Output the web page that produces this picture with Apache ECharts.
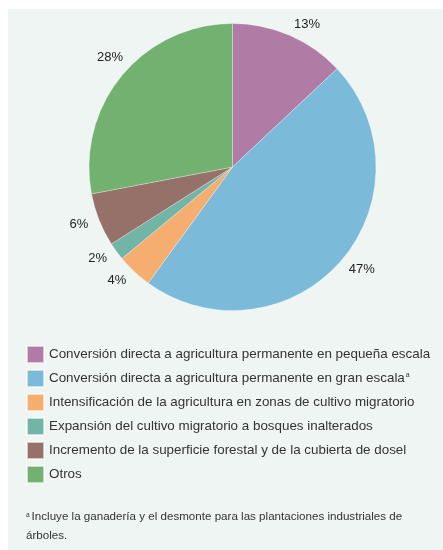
<!DOCTYPE html>
<html>
<head>
<meta charset="utf-8">
<script src="https://cdn.jsdelivr.net/npm/echarts@6/dist/echarts.min.js"></script>
<style>
  html, body { margin: 0; padding: 0; background: #ffffff; }
  #chart { width: 443px; height: 550px; }
</style>
</head>
<body>
<div id="chart"></div>
<script>
// Causas de la deforestación: porcentaje por categoría
const categories = [
  'Conversión directa a agricultura permanente en pequeña escala',
  'Conversión directa a agricultura permanente en gran escala',
  'Intensificación de la agricultura en zonas de cultivo migratorio',
  'Expansión del cultivo migratorio a bosques inalterados',
  'Incremento de la superficie forestal y de la cubierta de dosel',
  'Otros'
];
const shares = [13, 47, 4, 2, 6, 28];
const colors = ['#b07ba5', '#7bbad9', '#f5ad70', '#72b4a6', '#96716a', '#72b16f'];
// categories carrying a footnote mark
const footnoted = [false, true, false, false, false, false];
const footnoteLines = [
  'Incluye la ganadería y el desmonte para las plantaciones industriales de',
  'árboles.'
];

const FONT = '"Liberation Sans", Arial, Helvetica, sans-serif';
const panelBg = '#eff5f3';

const pieData = categories.map((name, i) => ({
  name: name,
  value: shares[i],
  itemStyle: { color: colors[i] }
}));

const chart = echarts.init(document.getElementById('chart'), null, { renderer: 'canvas' });

chart.setOption({
  backgroundColor: '#ffffff',
  animation: false,
  graphic: [
    {
      type: 'rect',
      z: -10,
      silent: true,
      shape: { x: 8, y: 9, width: 435, height: 541 },
      style: { fill: panelBg }
    },
    {
      type: 'text',
      left: 26,
      top: 511,
      silent: true,
      style: {
        text: '{s|a}{t|' + footnoteLines[0] + '}\n{t|' + footnoteLines[1] + '}',
        rich: {
          s: { fontSize: 6.5, fontFamily: FONT, fill: '#333333', verticalAlign: 'top', padding: [4, 2, 0, 0] },
          t: { fontSize: 11.6, fontFamily: FONT, fill: '#333333', lineHeight: 19 }
        }
      }
    }
  ],
  legend: {
    orient: 'vertical',
    left: 26,
    top: 345,
    padding: 0,
    itemWidth: 17,
    itemHeight: 17,
    itemGap: 5,
    icon: 'rect',
    selectedMode: false,
    data: categories,
    formatter: function (name) {
      const i = categories.indexOf(name);
      return footnoted[i] ? name + '{sup|a}' : name;
    },
    textStyle: {
      fontFamily: FONT,
      fontSize: 13.4,
      lineHeight: 17,
      color: '#333333',
      rich: {
        sup: { fontSize: 7, fontFamily: FONT, color: '#333333', lineHeight: 17, verticalAlign: 'top', padding: [2, 0, 0, 1] }
      }
    }
  },
  series: [
    {
      type: 'pie',
      center: [232.5, 167],
      radius: [0, 143.5],
      startAngle: 90,
      clockwise: true,
      silent: true,
      itemStyle: { borderColor: 'rgba(255,255,255,0.6)', borderWidth: 0.5 },
      label: {
        show: true,
        position: 'outside',
        formatter: '{c}%',
        distanceToLabelLine: 0,
        fontFamily: FONT,
        fontSize: 13,
        color: '#222222'
      },
      labelLine: { show: false, length: 11.5, length2: 0 },
      labelLayout: function (params) {
        // lift the label of the last slice a little toward the top
        if (params.dataIndex === shares.length - 1) {
          return { dx: 10, dy: -11 };
        }
        return {};
      },
      data: pieData
    }
  ]
});
</script>
</body>
</html>
